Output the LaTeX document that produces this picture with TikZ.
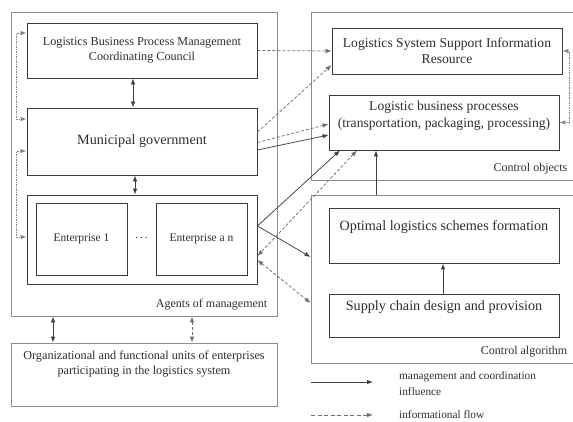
\documentclass[tikz,border=0pt]{standalone}
\usepackage{fontspec}
\setmainfont{Liberation Serif}
\usetikzlibrary{arrows.meta, positioning, calc}
\definecolor{inkgray}{HTML}{2E2E2E}
\definecolor{boxgray}{HTML}{3C3C3C}
\definecolor{framegray}{HTML}{8C8C8C}
\definecolor{linegray}{HTML}{404040}
\definecolor{dashgray}{HTML}{6E6E6E}
\tikzset{
  >={Latex[length=6pt,width=4.5pt]},
  flow/.style={-{Latex[length=6pt,width=4.5pt]}, line width=0.75pt, draw=linegray},
  twoflow/.style={{Latex[length=6pt,width=4.5pt]}-{Latex[length=6pt,width=4.5pt]}, line width=0.75pt, draw=linegray},
  dashedflow/.style={-{Latex[length=6pt,width=4.5pt]}, line width=0.75pt, draw=dashgray,
                     dash pattern=on 3pt off 2pt},
  dashedtwo/.style={{Latex[length=6pt,width=4.5pt]}-{Latex[length=6pt,width=4.5pt]}, line width=0.75pt,
                     draw=dashgray, dash pattern=on 3pt off 2pt},
  dottwo/.style={{Latex[length=6pt,width=4.5pt]}-{Latex[length=6pt,width=4.5pt]}, line width=1pt,
                     draw=dashgray!85, dash pattern=on 1.5pt off 1pt},
  framebox/.style={draw=framegray, line width=0.9pt, inner sep=0pt},
  procbox/.style={draw=boxgray, line width=0.8pt, fill=white, inner sep=0pt, align=center,
                  text=inkgray, minimum width=230pt},
  entbox/.style={draw=boxgray, line width=0.8pt, fill=white, inner sep=0pt,
                  minimum width=91pt, minimum height=72pt, text=inkgray,
                  font=\fontsize{11.5}{14}\selectfont},
  boxtext/.style={align=center, text=inkgray, inner sep=0pt},
  framelabel/.style={anchor=east, text=inkgray, inner sep=0pt, font=\fontsize{12}{14}\selectfont},
  legendtext/.style={anchor=west, align=left, text=inkgray, inner sep=0pt,
                  font=\fontsize{11.3}{16}\selectfont},
}
\begin{document}
\begin{tikzpicture}[x=1pt, y=-1pt]
\useasboundingbox (0,0) rectangle (573,421);

% ---- agents of management (left) ----
\node[framebox, minimum width=266pt, minimum height=304pt] (agents) at (144,164) {};
\node[framelabel] at ($(agents.south east)+(-10,-12)$) {Agents of management};

\node[procbox, minimum height=55pt, font=\fontsize{12.2}{15}\selectfont] (council) at (142,50.5)
   {Logistics Business Process Management\\Coordinating Council};
\node[procbox, minimum height=67pt, font=\fontsize{14.2}{16}\selectfont] (muni) at (142,141.5)
   {Municipal government};
\node[procbox, minimum height=89pt] (entgroup) at (142,239.5) {};
\node[entbox] (ent1) at (81.5,239) {Enterprise 1};
\node[entbox] (entn) at (201.5,239) {Enterprise a n};
\node[boxtext, font=\fontsize{11.5}{14}\selectfont] (entdots) at (141.5,238) {.\,.\,.};

\draw[twoflow] ($(council.south)+(-9,0)$) -- ($(muni.north)+(-9,0)$);
\draw[twoflow] ($(muni.south)+(-7,0)$) -- ($(entgroup.north)+(-7,0)$);

% ---- dotted links on the left ----
\draw[dottwo] ($(council.west)+(0,-17.5)$) -- ++(-10,0) |- ($(muni.west)+(0,-22.5)$);
\draw[dottwo] ($(muni.west)+(0,9.5)$) -- ++(-10,0) |- ($(entgroup.west)+(0,-2.5)$);

% ---- participating units (bottom left) ----
\node[procbox, draw=framegray, minimum width=266pt, minimum height=63pt] (units) at (144,374.5) {};
\node[boxtext, font=\fontsize{12.2}{15}\selectfont] at ($(units.north)+(0,21.5)$)
   {Organizational and functional units of enterprises\\participating in the logistics system};
\draw[twoflow] ($(agents.south)+(-91,0)$) -- ($(units.north)+(-91,0)$);
\draw[dashedtwo] ($(agents.south)+(48,0)$) -- ($(units.north)+(48,0)$);

% ---- control objects (top right) ----
\node[framebox, minimum width=267pt, minimum height=168pt] (objects) at (444.5,96) {};
\node[framelabel] at ($(objects.south east)+(-11,-12)$) {Control objects};
\node[procbox, minimum height=46pt, font=\fontsize{13.6}{16}\selectfont] (info) at (447,51)
   {Logistics System Support Information\\Resource};
\node[procbox, minimum height=55pt] (bp) at (444,122.5) {};
\node[boxtext, font=\fontsize{13.6}{17}\selectfont] at ($(bp.north)+(0,21.5)$)
   {Logistic business processes\\(transportation, packaging, processing)};
\draw[dottwo] (info.east) -- ++(7,0) |- (bp.east);

% ---- control algorithm (bottom right) ----
\node[framebox, minimum width=267pt, minimum height=168pt] (algo) at (444.5,279) {};
\node[framelabel] at ($(algo.south east)+(-11,-12)$) {Control algorithm};
\node[procbox, minimum height=55pt] (opt) at (444,235.5) {};
\node[boxtext, font=\fontsize{14.2}{16}\selectfont] at ($(opt.north)+(0,19)$)
   {Optimal logistics schemes formation};
\node[procbox, minimum height=43pt] (supply) at (444,315.5) {};
\node[boxtext, font=\fontsize{14.2}{16}\selectfont] at ($(supply.north)+(0,13)$)
   {Supply chain design and provision};
\draw[flow] ($(supply.north)+(-1,0)$) -- ($(opt.south)+(-1,0)$);
\draw[flow] ($(algo.north)+(-68.5,0)$) -- ($(bp.south)+(-68,0)$);

% ---- links between agents and objects / algorithm ----
\draw[dashedflow] (council.east) -- (info.west);
\draw[dashedflow] ($(muni.east)+(0,-9.5)$) -- ($(info.west)+(0,14)$);
\draw[dashedflow] ($(muni.east)+(0,1)$) -- ($(bp.west)+(0,1.5)$);
\draw[flow] ($(muni.east)+(0,8.5)$) -- ($(bp.west)+(0,12.5)$);
\draw[flow] ($(entgroup.east)+(0,-13.5)$) -- ($(bp.south)+(-104,0)$);
\draw[flow] ($(entgroup.east)+(0,-13.5)$) -- ($(algo.west)+(0,-22)$);
\draw[dashedtwo] ($(bp.south)+(-87,0)$) -- ($(entgroup.east)+(0,16.5)$);
\draw[dashedtwo] ($(entgroup.east)+(0,20.5)$) -- ($(algo.west)+(0,24)$);

% ---- legend ----
\coordinate (legA) at (311,382);
\coordinate (legB) at (373,382);
\coordinate (legC) at (311,415);
\coordinate (legD) at (373,415);
\draw[flow] (legA) -- (legB);
\draw[dashedflow, dash pattern=on 4pt off 2.5pt] (legC) -- (legD);
\node[legendtext] at (399,384) {management and coordination\\influence};
\node[legendtext] at (399,415) {informational flow};

\end{tikzpicture}
\end{document}
